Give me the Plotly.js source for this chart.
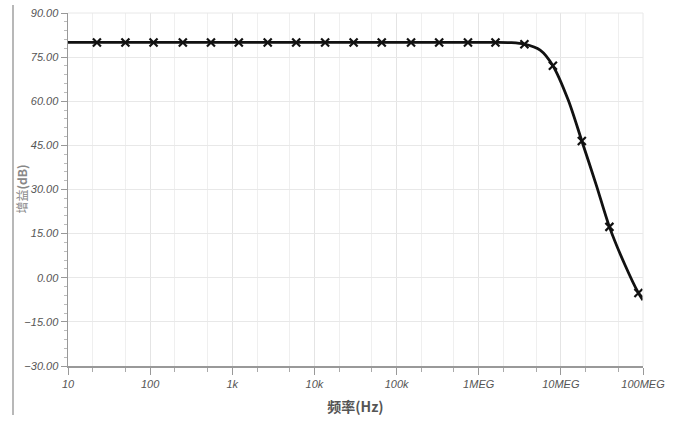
<!DOCTYPE html>
<html>
<head>
<meta charset="utf-8">
<script src="https://cdn.plot.ly/plotly-3.0.1.min.js"></script>
<style>
html,body{margin:0;padding:0;background:#fff;}
#wrap{position:relative;width:676px;height:421px;}
#chart{width:676px;height:421px;}
#edge{position:absolute;left:12px;top:5px;width:2px;height:410px;background:#b8b8b8;}
</style>
</head>
<body>
<div id="wrap"><div id="chart"></div><div id="edge"></div></div>
<script>
// Marker points (frequency in Hz, gain in dB)
const markerFreq = [22.5, 50, 110, 250, 550, 1200, 2700, 6000, 13500, 30000, 66000, 150000, 330000, 740000, 1600000, 3600000, 8000000, 18000000, 39000000, 88000000];
const markerGain = [80, 80, 80, 80, 80, 80, 80, 80, 80, 80, 80, 80, 80, 80, 80, 79.4, 72.1, 46.5, 17.3, -5.2];
// Curve points (line), including segment ends and knee detail
const curveFreq = [10, 22.5, 50, 110, 250, 550, 1200, 2700, 6000, 13500, 30000, 66000, 150000, 330000, 740000, 1600000, 2500000, 3600000, 5600000, 8000000, 12300000, 18000000, 27000000, 39000000, 60000000, 88000000, 100000000];
const curveGain = [80, 80, 80, 80, 80, 80, 80, 80, 80, 80, 80, 80, 80, 80, 80, 80, 79.9, 79.4, 77.4, 72.1, 60.4, 46.5, 31.5, 17.3, 4.5, -5.2, -7.6];
// Tick labels
const xTickVals = [10, 100, 1000, 10000, 100000, 1000000, 10000000, 100000000];
const xTickText = ['10', '100', '1k', '10k', '100k', '1MEG', '10MEG', '100MEG'];
const yTickVals = [90, 75, 60, 45, 30, 15, 0, -15, -30];

const traces = [
  {x: curveFreq, y: curveGain, type: 'scatter', mode: 'lines',
   line: {color: '#111', width: 2.8, shape: 'spline', smoothing: 0.8},
   hoverinfo: 'skip', showlegend: false},
  {x: markerFreq, y: markerGain, type: 'scatter', mode: 'markers',
   marker: {symbol: 'x-thin-open', size: 8, color: '#111', line: {color: '#111', width: 2.2}},
   showlegend: false}
];

const tickFont = {family: 'Liberation Sans, Arial, sans-serif', size: 11, color: '#555', style: 'italic'};

const layout = {
  width: 676, height: 421,
  margin: {l: 68, r: 33, t: 13, b: 55},
  paper_bgcolor: '#fff', plot_bgcolor: '#fff',
  xaxis: {
    type: 'log', range: [1, 8],
    tickvals: xTickVals, ticktext: xTickText,
    tickfont: tickFont,
    ticks: 'outside', ticklen: 7, tickcolor: '#999', tickwidth: 1,
    showgrid: true, gridcolor: '#e4e4e4', gridwidth: 1,
    minor: {showgrid: true, gridcolor: '#efefef', gridwidth: 1, ticks: 'outside', ticklen: 4, tickcolor: '#aaa'},
    showline: true, linecolor: '#999', linewidth: 1.5, mirror: false,
    zeroline: false,
    title: {text: '<b>频率(Hz)</b>', font: {family: 'Noto Sans CJK SC, sans-serif', size: 14, color: '#555'}, standoff: 13}
  },
  yaxis: {
    range: [-30, 90], tickvals: yTickVals, tickformat: '.2f',
    tickfont: tickFont,
    ticks: 'outside', ticklen: 6, tickcolor: '#999',
    minor: {dtick: 3, ticks: 'outside', ticklen: 3, tickcolor: '#bbb', showgrid: false},
    showgrid: true, gridcolor: '#e8e8e8', gridwidth: 1,
    showline: true, linecolor: '#999', linewidth: 1.5,
    zeroline: false
  },
  annotations: [
    {text: '增益<b>(dB)</b>', xref: 'paper', yref: 'paper', x: (21 - 68) / 575, y: 0.5,
     xanchor: 'center', yanchor: 'middle', textangle: -90, showarrow: false,
     font: {family: 'Noto Sans CJK SC, sans-serif', size: 12, color: '#888'}}
  ],
  shapes: [
    {type: 'line', xref: 'paper', yref: 'paper', x0: 0, x1: 1, y0: 1, y1: 1, line: {color: '#e8e8e8', width: 1}},
    {type: 'line', xref: 'paper', yref: 'paper', x0: 1, x1: 1, y0: 0, y1: 1, line: {color: '#e8e8e8', width: 1}}
  ]
};

Plotly.newPlot('chart', traces, layout, {displayModeBar: false, staticPlot: true});
</script>
</body>
</html>
